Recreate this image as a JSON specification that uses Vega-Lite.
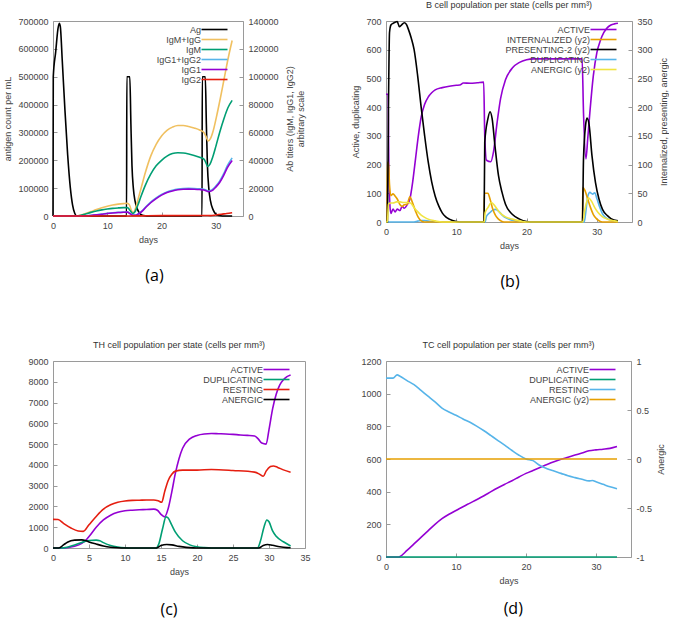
{
  "$schema": "https://vega.github.io/schema/vega-lite/v6.json",
  "background": "white",
  "padding": {"left": 3, "top": 0, "right": 0, "bottom": 0},
  "columns": 2,
  "align": "each",
  "spacing": {"row": 50, "column": 40},
  "resolve": {"scale": {"color": "independent"}, "legend": {"color": "independent"}},
  "datasets": {
    "aL": [
      {"d":0,"s":"Ag","v":0},{"d":0.05,"s":"Ag","v":500000},{"d":0.5,"s":"Ag","v":590000},{"d":0.9,"s":"Ag","v":670000},{"d":1.15,"s":"Ag","v":692000},{"d":1.35,"s":"Ag","v":680000},{"d":1.7,"s":"Ag","v":560000},{"d":2.2,"s":"Ag","v":380000},{"d":2.7,"s":"Ag","v":220000},{"d":3.2,"s":"Ag","v":100000},{"d":3.6,"s":"Ag","v":40000},{"d":4.0,"s":"Ag","v":10000},{"d":4.4,"s":"Ag","v":0},{"d":13.55,"s":"Ag","v":0},{"d":13.6,"s":"Ag","v":500000},{"d":14.15,"s":"Ag","v":500000},{"d":14.35,"s":"Ag","v":330000},{"d":14.55,"s":"Ag","v":180000},{"d":14.8,"s":"Ag","v":100000},{"d":15.1,"s":"Ag","v":55000},{"d":15.6,"s":"Ag","v":22000},{"d":16.1,"s":"Ag","v":7000},{"d":16.7,"s":"Ag","v":1500},{"d":17.3,"s":"Ag","v":0},{"d":27.45,"s":"Ag","v":0},{"d":27.5,"s":"Ag","v":500000},{"d":28.05,"s":"Ag","v":500000},{"d":28.25,"s":"Ag","v":330000},{"d":28.45,"s":"Ag","v":180000},{"d":28.7,"s":"Ag","v":100000},{"d":29.0,"s":"Ag","v":55000},{"d":29.5,"s":"Ag","v":22000},{"d":30.0,"s":"Ag","v":7000},{"d":30.6,"s":"Ag","v":1500},{"d":31.2,"s":"Ag","v":0},{"d":33,"s":"Ag","v":0}
    ],
    "aR": [
      {"d":0,"s":"IgM+IgG","v":0},{"d":4.5,"s":"IgM+IgG","v":0},{"d":5,"s":"IgM+IgG","v":500},{"d":6,"s":"IgM+IgG","v":1800},{"d":7,"s":"IgM+IgG","v":3200},{"d":8,"s":"IgM+IgG","v":4600},{"d":9,"s":"IgM+IgG","v":5900},{"d":10,"s":"IgM+IgG","v":7000},{"d":11,"s":"IgM+IgG","v":7900},{"d":12,"s":"IgM+IgG","v":8500},{"d":13,"s":"IgM+IgG","v":8900},{"d":13.7,"s":"IgM+IgG","v":9100},{"d":14.1,"s":"IgM+IgG","v":7800},{"d":14.5,"s":"IgM+IgG","v":3500},{"d":14.8,"s":"IgM+IgG","v":2500},{"d":15.2,"s":"IgM+IgG","v":5500},{"d":15.7,"s":"IgM+IgG","v":12500},{"d":16.3,"s":"IgM+IgG","v":21000},{"d":17,"s":"IgM+IgG","v":31000},{"d":18,"s":"IgM+IgG","v":43000},{"d":19,"s":"IgM+IgG","v":51500},{"d":20,"s":"IgM+IgG","v":57500},{"d":21,"s":"IgM+IgG","v":61500},{"d":22,"s":"IgM+IgG","v":63800},{"d":23,"s":"IgM+IgG","v":65000},{"d":24,"s":"IgM+IgG","v":65000},{"d":25,"s":"IgM+IgG","v":64300},{"d":26,"s":"IgM+IgG","v":63200},{"d":27,"s":"IgM+IgG","v":61800},{"d":27.8,"s":"IgM+IgG","v":60000},{"d":28.2,"s":"IgM+IgG","v":57000},{"d":28.6,"s":"IgM+IgG","v":53800},{"d":29.0,"s":"IgM+IgG","v":55500},{"d":29.5,"s":"IgM+IgG","v":61000},{"d":30.1,"s":"IgM+IgG","v":71000},{"d":30.8,"s":"IgM+IgG","v":84000},{"d":31.5,"s":"IgM+IgG","v":98000},{"d":32.2,"s":"IgM+IgG","v":112000},{"d":33,"s":"IgM+IgG","v":126000},
      {"d":0,"s":"IgM","v":0},{"d":4.5,"s":"IgM","v":0},{"d":5,"s":"IgM","v":400},{"d":6,"s":"IgM","v":1500},{"d":7,"s":"IgM","v":2600},{"d":8,"s":"IgM","v":3600},{"d":9,"s":"IgM","v":4400},{"d":10,"s":"IgM","v":5000},{"d":11,"s":"IgM","v":5500},{"d":12,"s":"IgM","v":5800},{"d":13,"s":"IgM","v":6000},{"d":13.7,"s":"IgM","v":6000},{"d":14.2,"s":"IgM","v":4000},{"d":14.7,"s":"IgM","v":1800},{"d":15.1,"s":"IgM","v":3000},{"d":15.6,"s":"IgM","v":7500},{"d":16.2,"s":"IgM","v":14000},{"d":17,"s":"IgM","v":22000},{"d":18,"s":"IgM","v":30000},{"d":19,"s":"IgM","v":36000},{"d":20,"s":"IgM","v":40000},{"d":21,"s":"IgM","v":43000},{"d":22,"s":"IgM","v":44800},{"d":23,"s":"IgM","v":45400},{"d":24,"s":"IgM","v":45200},{"d":25,"s":"IgM","v":44500},{"d":26,"s":"IgM","v":43500},{"d":27,"s":"IgM","v":42200},{"d":27.8,"s":"IgM","v":40800},{"d":28.2,"s":"IgM","v":38000},{"d":28.5,"s":"IgM","v":35500},{"d":28.9,"s":"IgM","v":37000},{"d":29.4,"s":"IgM","v":42000},{"d":30,"s":"IgM","v":50000},{"d":30.7,"s":"IgM","v":60000},{"d":31.5,"s":"IgM","v":70000},{"d":32.2,"s":"IgM","v":77500},{"d":33,"s":"IgM","v":83000},
      {"d":0,"s":"IgG1+IgG2","v":0},{"d":5,"s":"IgG1+IgG2","v":0},{"d":6,"s":"IgG1+IgG2","v":200},{"d":7,"s":"IgG1+IgG2","v":500},{"d":8,"s":"IgG1+IgG2","v":900},{"d":9,"s":"IgG1+IgG2","v":1400},{"d":10,"s":"IgG1+IgG2","v":1900},{"d":11,"s":"IgG1+IgG2","v":2300},{"d":12,"s":"IgG1+IgG2","v":2600},{"d":13,"s":"IgG1+IgG2","v":2800},{"d":13.7,"s":"IgG1+IgG2","v":2900},{"d":14.2,"s":"IgG1+IgG2","v":1800},{"d":14.7,"s":"IgG1+IgG2","v":600},{"d":15.2,"s":"IgG1+IgG2","v":600},{"d":15.8,"s":"IgG1+IgG2","v":1800},{"d":16.5,"s":"IgG1+IgG2","v":4000},{"d":17.2,"s":"IgG1+IgG2","v":7000},{"d":18,"s":"IgG1+IgG2","v":10000},{"d":19,"s":"IgG1+IgG2","v":13000},{"d":20,"s":"IgG1+IgG2","v":15500},{"d":21,"s":"IgG1+IgG2","v":17300},{"d":22,"s":"IgG1+IgG2","v":18500},{"d":23,"s":"IgG1+IgG2","v":19300},{"d":24,"s":"IgG1+IgG2","v":19700},{"d":25,"s":"IgG1+IgG2","v":19800},{"d":26,"s":"IgG1+IgG2","v":19700},{"d":27,"s":"IgG1+IgG2","v":19500},{"d":27.8,"s":"IgG1+IgG2","v":19200},{"d":28.2,"s":"IgG1+IgG2","v":18600},{"d":28.6,"s":"IgG1+IgG2","v":18000},{"d":29,"s":"IgG1+IgG2","v":18300},{"d":29.5,"s":"IgG1+IgG2","v":19500},{"d":30,"s":"IgG1+IgG2","v":21500},{"d":30.7,"s":"IgG1+IgG2","v":25000},{"d":31.4,"s":"IgG1+IgG2","v":30000},{"d":32.1,"s":"IgG1+IgG2","v":36000},{"d":33,"s":"IgG1+IgG2","v":41700},
      {"d":0,"s":"IgG1","v":0},{"d":5,"s":"IgG1","v":0},{"d":6,"s":"IgG1","v":150},{"d":7,"s":"IgG1","v":400},{"d":8,"s":"IgG1","v":800},{"d":9,"s":"IgG1","v":1300},{"d":10,"s":"IgG1","v":1800},{"d":11,"s":"IgG1","v":2200},{"d":12,"s":"IgG1","v":2500},{"d":13,"s":"IgG1","v":2700},{"d":13.7,"s":"IgG1","v":2800},{"d":14.2,"s":"IgG1","v":1700},{"d":14.7,"s":"IgG1","v":500},{"d":15.2,"s":"IgG1","v":500},{"d":15.8,"s":"IgG1","v":1600},{"d":16.5,"s":"IgG1","v":3700},{"d":17.2,"s":"IgG1","v":6600},{"d":18,"s":"IgG1","v":9500},{"d":19,"s":"IgG1","v":12500},{"d":20,"s":"IgG1","v":15000},{"d":21,"s":"IgG1","v":16800},{"d":22,"s":"IgG1","v":18000},{"d":23,"s":"IgG1","v":18800},{"d":24,"s":"IgG1","v":19200},{"d":25,"s":"IgG1","v":19300},{"d":26,"s":"IgG1","v":19200},{"d":27,"s":"IgG1","v":19000},{"d":27.8,"s":"IgG1","v":18700},{"d":28.2,"s":"IgG1","v":18100},{"d":28.6,"s":"IgG1","v":17500},{"d":29,"s":"IgG1","v":17700},{"d":29.5,"s":"IgG1","v":18800},{"d":30,"s":"IgG1","v":20700},{"d":30.7,"s":"IgG1","v":24000},{"d":31.4,"s":"IgG1","v":28800},{"d":32.1,"s":"IgG1","v":34500},{"d":33,"s":"IgG1","v":39800},
      {"d":0,"s":"IgG2","v":0},{"d":14,"s":"IgG2","v":0},{"d":16,"s":"IgG2","v":100},{"d":20,"s":"IgG2","v":300},{"d":28,"s":"IgG2","v":400},{"d":29,"s":"IgG2","v":300},{"d":30,"s":"IgG2","v":700},{"d":31,"s":"IgG2","v":1200},{"d":32,"s":"IgG2","v":1800},{"d":33,"s":"IgG2","v":2300}
    ],
    "bL": [
      {"d":0,"s":"ACTIVE","v":445},{"d":0.3,"s":"ACTIVE","v":445},{"d":0.4,"s":"ACTIVE","v":200},{"d":0.55,"s":"ACTIVE","v":60},{"d":0.7,"s":"ACTIVE","v":30},{"d":1,"s":"ACTIVE","v":45},{"d":1.3,"s":"ACTIVE","v":35},{"d":1.6,"s":"ACTIVE","v":45},{"d":2,"s":"ACTIVE","v":40},{"d":2.3,"s":"ACTIVE","v":55},{"d":2.6,"s":"ACTIVE","v":48},{"d":3,"s":"ACTIVE","v":60},{"d":3.4,"s":"ACTIVE","v":80},{"d":3.8,"s":"ACTIVE","v":140},{"d":4.2,"s":"ACTIVE","v":220},{"d":4.6,"s":"ACTIVE","v":300},{"d":5,"s":"ACTIVE","v":365},{"d":5.5,"s":"ACTIVE","v":410},{"d":6,"s":"ACTIVE","v":435},{"d":6.5,"s":"ACTIVE","v":450},{"d":7,"s":"ACTIVE","v":460},{"d":8,"s":"ACTIVE","v":468},{"d":9,"s":"ACTIVE","v":473},{"d":10,"s":"ACTIVE","v":476},{"d":10.5,"s":"ACTIVE","v":477},{"d":11,"s":"ACTIVE","v":484},{"d":12,"s":"ACTIVE","v":483},{"d":13,"s":"ACTIVE","v":485},{"d":13.9,"s":"ACTIVE","v":487},{"d":14.05,"s":"ACTIVE","v":300},{"d":14.3,"s":"ACTIVE","v":215},{"d":14.9,"s":"ACTIVE","v":210},{"d":15.3,"s":"ACTIVE","v":245},{"d":15.8,"s":"ACTIVE","v":345},{"d":16.3,"s":"ACTIVE","v":430},{"d":17,"s":"ACTIVE","v":495},{"d":18,"s":"ACTIVE","v":537},{"d":19,"s":"ACTIVE","v":556},{"d":20,"s":"ACTIVE","v":565},{"d":21,"s":"ACTIVE","v":568},{"d":24,"s":"ACTIVE","v":568},{"d":27.9,"s":"ACTIVE","v":568},{"d":28.1,"s":"ACTIVE","v":380},{"d":28.45,"s":"ACTIVE","v":220},{"d":28.7,"s":"ACTIVE","v":290},{"d":29,"s":"ACTIVE","v":380},{"d":29.5,"s":"ACTIVE","v":510},{"d":30,"s":"ACTIVE","v":590},{"d":30.5,"s":"ACTIVE","v":632},{"d":31,"s":"ACTIVE","v":660},{"d":31.5,"s":"ACTIVE","v":677},{"d":32,"s":"ACTIVE","v":686},{"d":32.5,"s":"ACTIVE","v":690},{"d":33,"s":"ACTIVE","v":692},
      {"d":0,"s":"DUPLICATING","v":0},{"d":4,"s":"DUPLICATING","v":0},{"d":4.5,"s":"DUPLICATING","v":3},{"d":5,"s":"DUPLICATING","v":5},{"d":5.5,"s":"DUPLICATING","v":5},{"d":6,"s":"DUPLICATING","v":3},{"d":7,"s":"DUPLICATING","v":0},{"d":14.1,"s":"DUPLICATING","v":0},{"d":14.3,"s":"DUPLICATING","v":20},{"d":14.8,"s":"DUPLICATING","v":33},{"d":15.2,"s":"DUPLICATING","v":42},{"d":15.6,"s":"DUPLICATING","v":44},{"d":16,"s":"DUPLICATING","v":38},{"d":16.5,"s":"DUPLICATING","v":25},{"d":17,"s":"DUPLICATING","v":15},{"d":18,"s":"DUPLICATING","v":6},{"d":19,"s":"DUPLICATING","v":1},{"d":20,"s":"DUPLICATING","v":0},{"d":28.2,"s":"DUPLICATING","v":0},{"d":28.4,"s":"DUPLICATING","v":30},{"d":28.7,"s":"DUPLICATING","v":88},{"d":29,"s":"DUPLICATING","v":103},{"d":29.4,"s":"DUPLICATING","v":97},{"d":29.7,"s":"DUPLICATING","v":102},{"d":30,"s":"DUPLICATING","v":82},{"d":30.4,"s":"DUPLICATING","v":52},{"d":30.8,"s":"DUPLICATING","v":28},{"d":31.3,"s":"DUPLICATING","v":14},{"d":32,"s":"DUPLICATING","v":6},{"d":33,"s":"DUPLICATING","v":2}
    ],
    "bR": [
      {"d":0,"s":"INTERNALIZED (y2)","v":0},{"d":0.15,"s":"INTERNALIZED (y2)","v":0},{"d":0.2,"s":"INTERNALIZED (y2)","v":104},{"d":0.35,"s":"INTERNALIZED (y2)","v":104},{"d":0.5,"s":"INTERNALIZED (y2)","v":65},{"d":0.7,"s":"INTERNALIZED (y2)","v":46},{"d":1,"s":"INTERNALIZED (y2)","v":49},{"d":1.3,"s":"INTERNALIZED (y2)","v":45},{"d":1.6,"s":"INTERNALIZED (y2)","v":40},{"d":2,"s":"INTERNALIZED (y2)","v":30},{"d":2.3,"s":"INTERNALIZED (y2)","v":27},{"d":2.6,"s":"INTERNALIZED (y2)","v":30},{"d":3,"s":"INTERNALIZED (y2)","v":31},{"d":3.4,"s":"INTERNALIZED (y2)","v":44},{"d":3.7,"s":"INTERNALIZED (y2)","v":36},{"d":4.2,"s":"INTERNALIZED (y2)","v":19},{"d":4.6,"s":"INTERNALIZED (y2)","v":8},{"d":5,"s":"INTERNALIZED (y2)","v":2},{"d":5.5,"s":"INTERNALIZED (y2)","v":0},{"d":13.95,"s":"INTERNALIZED (y2)","v":0},{"d":14.0,"s":"INTERNALIZED (y2)","v":50},{"d":14.5,"s":"INTERNALIZED (y2)","v":50},{"d":14.8,"s":"INTERNALIZED (y2)","v":40},{"d":15.2,"s":"INTERNALIZED (y2)","v":22},{"d":15.6,"s":"INTERNALIZED (y2)","v":11},{"d":16,"s":"INTERNALIZED (y2)","v":5},{"d":16.5,"s":"INTERNALIZED (y2)","v":1},{"d":17,"s":"INTERNALIZED (y2)","v":0},{"d":27.95,"s":"INTERNALIZED (y2)","v":0},{"d":28.0,"s":"INTERNALIZED (y2)","v":60},{"d":28.3,"s":"INTERNALIZED (y2)","v":55},{"d":28.7,"s":"INTERNALIZED (y2)","v":40},{"d":29.1,"s":"INTERNALIZED (y2)","v":25},{"d":29.5,"s":"INTERNALIZED (y2)","v":13},{"d":30,"s":"INTERNALIZED (y2)","v":5},{"d":30.5,"s":"INTERNALIZED (y2)","v":1},{"d":31,"s":"INTERNALIZED (y2)","v":0},{"d":33,"s":"INTERNALIZED (y2)","v":0},
      {"d":0,"s":"PRESENTING-2 (y2)","v":0},{"d":0.2,"s":"PRESENTING-2 (y2)","v":0},{"d":0.35,"s":"PRESENTING-2 (y2)","v":200},{"d":0.5,"s":"PRESENTING-2 (y2)","v":330},{"d":0.7,"s":"PRESENTING-2 (y2)","v":343},{"d":1,"s":"PRESENTING-2 (y2)","v":346},{"d":1.3,"s":"PRESENTING-2 (y2)","v":348},{"d":1.6,"s":"PRESENTING-2 (y2)","v":349},{"d":1.9,"s":"PRESENTING-2 (y2)","v":340},{"d":2.2,"s":"PRESENTING-2 (y2)","v":343},{"d":2.6,"s":"PRESENTING-2 (y2)","v":347},{"d":2.9,"s":"PRESENTING-2 (y2)","v":344},{"d":3.2,"s":"PRESENTING-2 (y2)","v":335},{"d":3.6,"s":"PRESENTING-2 (y2)","v":320},{"d":4,"s":"PRESENTING-2 (y2)","v":300},{"d":4.5,"s":"PRESENTING-2 (y2)","v":255},{"d":5,"s":"PRESENTING-2 (y2)","v":200},{"d":5.5,"s":"PRESENTING-2 (y2)","v":150},{"d":6,"s":"PRESENTING-2 (y2)","v":105},{"d":6.5,"s":"PRESENTING-2 (y2)","v":70},{"d":7,"s":"PRESENTING-2 (y2)","v":45},{"d":7.5,"s":"PRESENTING-2 (y2)","v":28},{"d":8,"s":"PRESENTING-2 (y2)","v":16},{"d":8.5,"s":"PRESENTING-2 (y2)","v":9},{"d":9,"s":"PRESENTING-2 (y2)","v":5},{"d":10,"s":"PRESENTING-2 (y2)","v":1},{"d":11,"s":"PRESENTING-2 (y2)","v":0},{"d":13.95,"s":"PRESENTING-2 (y2)","v":0},{"d":14.05,"s":"PRESENTING-2 (y2)","v":139},{"d":14.5,"s":"PRESENTING-2 (y2)","v":180},{"d":14.8,"s":"PRESENTING-2 (y2)","v":192},{"d":15.1,"s":"PRESENTING-2 (y2)","v":180},{"d":15.5,"s":"PRESENTING-2 (y2)","v":133},{"d":16,"s":"PRESENTING-2 (y2)","v":81},{"d":16.5,"s":"PRESENTING-2 (y2)","v":52},{"d":17,"s":"PRESENTING-2 (y2)","v":31},{"d":18,"s":"PRESENTING-2 (y2)","v":13},{"d":19,"s":"PRESENTING-2 (y2)","v":5},{"d":20,"s":"PRESENTING-2 (y2)","v":1},{"d":21,"s":"PRESENTING-2 (y2)","v":0},{"d":27.95,"s":"PRESENTING-2 (y2)","v":0},{"d":28.1,"s":"PRESENTING-2 (y2)","v":110},{"d":28.4,"s":"PRESENTING-2 (y2)","v":169},{"d":28.6,"s":"PRESENTING-2 (y2)","v":181},{"d":28.9,"s":"PRESENTING-2 (y2)","v":169},{"d":29.3,"s":"PRESENTING-2 (y2)","v":116},{"d":29.8,"s":"PRESENTING-2 (y2)","v":69},{"d":30.3,"s":"PRESENTING-2 (y2)","v":40},{"d":30.8,"s":"PRESENTING-2 (y2)","v":22},{"d":31.5,"s":"PRESENTING-2 (y2)","v":11},{"d":32,"s":"PRESENTING-2 (y2)","v":6},{"d":33,"s":"PRESENTING-2 (y2)","v":2},
      {"d":0,"s":"ANERGIC (y2)","v":0},{"d":0.2,"s":"ANERGIC (y2)","v":0},{"d":0.35,"s":"ANERGIC (y2)","v":31},{"d":0.6,"s":"ANERGIC (y2)","v":33},{"d":1,"s":"ANERGIC (y2)","v":33},{"d":1.5,"s":"ANERGIC (y2)","v":35},{"d":2,"s":"ANERGIC (y2)","v":35},{"d":2.5,"s":"ANERGIC (y2)","v":34},{"d":3,"s":"ANERGIC (y2)","v":34},{"d":3.5,"s":"ANERGIC (y2)","v":33},{"d":4,"s":"ANERGIC (y2)","v":25},{"d":4.5,"s":"ANERGIC (y2)","v":18},{"d":5,"s":"ANERGIC (y2)","v":12},{"d":5.5,"s":"ANERGIC (y2)","v":8},{"d":6,"s":"ANERGIC (y2)","v":5},{"d":7,"s":"ANERGIC (y2)","v":2},{"d":8,"s":"ANERGIC (y2)","v":0},{"d":14.0,"s":"ANERGIC (y2)","v":0},{"d":14.1,"s":"ANERGIC (y2)","v":16},{"d":14.5,"s":"ANERGIC (y2)","v":25},{"d":15,"s":"ANERGIC (y2)","v":34},{"d":15.5,"s":"ANERGIC (y2)","v":28},{"d":16,"s":"ANERGIC (y2)","v":19},{"d":16.5,"s":"ANERGIC (y2)","v":13},{"d":17,"s":"ANERGIC (y2)","v":9},{"d":18,"s":"ANERGIC (y2)","v":5},{"d":19,"s":"ANERGIC (y2)","v":2},{"d":20,"s":"ANERGIC (y2)","v":0},{"d":28,"s":"ANERGIC (y2)","v":0},{"d":28.3,"s":"ANERGIC (y2)","v":22},{"d":28.8,"s":"ANERGIC (y2)","v":42},{"d":29.2,"s":"ANERGIC (y2)","v":37},{"d":29.7,"s":"ANERGIC (y2)","v":25},{"d":30.2,"s":"ANERGIC (y2)","v":16},{"d":30.8,"s":"ANERGIC (y2)","v":9},{"d":31.5,"s":"ANERGIC (y2)","v":5},{"d":32.5,"s":"ANERGIC (y2)","v":2},{"d":33,"s":"ANERGIC (y2)","v":1}
    ],
    "c": [
      {"d":0,"s":"ACTIVE","v":0},{"d":1.5,"s":"ACTIVE","v":0},{"d":2,"s":"ACTIVE","v":20},{"d":3,"s":"ACTIVE","v":80},{"d":4,"s":"ACTIVE","v":220},{"d":4.5,"s":"ACTIVE","v":350},{"d":5,"s":"ACTIVE","v":550},{"d":6,"s":"ACTIVE","v":1000},{"d":7,"s":"ACTIVE","v":1350},{"d":8,"s":"ACTIVE","v":1580},{"d":9,"s":"ACTIVE","v":1720},{"d":10,"s":"ACTIVE","v":1790},{"d":11,"s":"ACTIVE","v":1820},{"d":12,"s":"ACTIVE","v":1840},{"d":13,"s":"ACTIVE","v":1850},{"d":14,"s":"ACTIVE","v":1870},{"d":14.5,"s":"ACTIVE","v":1820},{"d":15,"s":"ACTIVE","v":1620},{"d":15.5,"s":"ACTIVE","v":1500},{"d":16,"s":"ACTIVE","v":1900},{"d":16.5,"s":"ACTIVE","v":2700},{"d":17,"s":"ACTIVE","v":3600},{"d":17.5,"s":"ACTIVE","v":4300},{"d":18,"s":"ACTIVE","v":4800},{"d":19,"s":"ACTIVE","v":5250},{"d":20,"s":"ACTIVE","v":5420},{"d":21,"s":"ACTIVE","v":5490},{"d":22,"s":"ACTIVE","v":5510},{"d":23,"s":"ACTIVE","v":5500},{"d":24,"s":"ACTIVE","v":5490},{"d":25,"s":"ACTIVE","v":5470},{"d":26,"s":"ACTIVE","v":5440},{"d":27,"s":"ACTIVE","v":5420},{"d":28,"s":"ACTIVE","v":5390},{"d":28.5,"s":"ACTIVE","v":5250},{"d":29,"s":"ACTIVE","v":5050},{"d":29.6,"s":"ACTIVE","v":5000},{"d":30,"s":"ACTIVE","v":5700},{"d":30.5,"s":"ACTIVE","v":6700},{"d":31,"s":"ACTIVE","v":7400},{"d":31.5,"s":"ACTIVE","v":7850},{"d":32,"s":"ACTIVE","v":8100},{"d":32.5,"s":"ACTIVE","v":8250},{"d":33,"s":"ACTIVE","v":8330},
      {"d":0,"s":"DUPLICATING","v":0},{"d":1,"s":"DUPLICATING","v":0},{"d":2,"s":"DUPLICATING","v":40},{"d":3,"s":"DUPLICATING","v":140},{"d":4,"s":"DUPLICATING","v":270},{"d":5,"s":"DUPLICATING","v":360},{"d":6,"s":"DUPLICATING","v":380},{"d":6.5,"s":"DUPLICATING","v":350},{"d":7,"s":"DUPLICATING","v":260},{"d":8,"s":"DUPLICATING","v":120},{"d":9,"s":"DUPLICATING","v":50},{"d":10,"s":"DUPLICATING","v":15},{"d":11,"s":"DUPLICATING","v":0},{"d":14.3,"s":"DUPLICATING","v":0},{"d":14.7,"s":"DUPLICATING","v":200},{"d":15.2,"s":"DUPLICATING","v":900},{"d":15.7,"s":"DUPLICATING","v":1500},{"d":16,"s":"DUPLICATING","v":1440},{"d":16.5,"s":"DUPLICATING","v":1100},{"d":17,"s":"DUPLICATING","v":760},{"d":18,"s":"DUPLICATING","v":350},{"d":19,"s":"DUPLICATING","v":150},{"d":20,"s":"DUPLICATING","v":60},{"d":21,"s":"DUPLICATING","v":20},{"d":22,"s":"DUPLICATING","v":0},{"d":28.4,"s":"DUPLICATING","v":0},{"d":28.8,"s":"DUPLICATING","v":320},{"d":29.3,"s":"DUPLICATING","v":1000},{"d":29.7,"s":"DUPLICATING","v":1350},{"d":30,"s":"DUPLICATING","v":1260},{"d":30.5,"s":"DUPLICATING","v":820},{"d":31,"s":"DUPLICATING","v":560},{"d":32,"s":"DUPLICATING","v":300},{"d":33,"s":"DUPLICATING","v":100},
      {"d":0,"s":"RESTING","v":1380},{"d":0.7,"s":"RESTING","v":1370},{"d":1.5,"s":"RESTING","v":1170},{"d":2.5,"s":"RESTING","v":960},{"d":3.5,"s":"RESTING","v":820},{"d":4.2,"s":"RESTING","v":800},{"d":5,"s":"RESTING","v":1120},{"d":6,"s":"RESTING","v":1520},{"d":7,"s":"RESTING","v":1870},{"d":8,"s":"RESTING","v":2080},{"d":9,"s":"RESTING","v":2200},{"d":10,"s":"RESTING","v":2260},{"d":11,"s":"RESTING","v":2290},{"d":12,"s":"RESTING","v":2300},{"d":13,"s":"RESTING","v":2310},{"d":14,"s":"RESTING","v":2310},{"d":14.6,"s":"RESTING","v":2270},{"d":15.1,"s":"RESTING","v":2200},{"d":15.5,"s":"RESTING","v":2700},{"d":16,"s":"RESTING","v":3250},{"d":16.5,"s":"RESTING","v":3550},{"d":17,"s":"RESTING","v":3700},{"d":18,"s":"RESTING","v":3750},{"d":20,"s":"RESTING","v":3750},{"d":22,"s":"RESTING","v":3780},{"d":25,"s":"RESTING","v":3730},{"d":28,"s":"RESTING","v":3650},{"d":28.7,"s":"RESTING","v":3550},{"d":29.2,"s":"RESTING","v":3450},{"d":29.6,"s":"RESTING","v":3700},{"d":30.2,"s":"RESTING","v":3920},{"d":30.6,"s":"RESTING","v":3950},{"d":31.2,"s":"RESTING","v":3880},{"d":32,"s":"RESTING","v":3760},{"d":33,"s":"RESTING","v":3650},
      {"d":0,"s":"ANERGIC","v":0},{"d":0.8,"s":"ANERGIC","v":0},{"d":1.5,"s":"ANERGIC","v":160},{"d":2,"s":"ANERGIC","v":280},{"d":3,"s":"ANERGIC","v":380},{"d":4,"s":"ANERGIC","v":390},{"d":4.5,"s":"ANERGIC","v":360},{"d":5,"s":"ANERGIC","v":290},{"d":6,"s":"ANERGIC","v":190},{"d":7,"s":"ANERGIC","v":100},{"d":8,"s":"ANERGIC","v":40},{"d":9,"s":"ANERGIC","v":10},{"d":10,"s":"ANERGIC","v":0},{"d":14.4,"s":"ANERGIC","v":0},{"d":15,"s":"ANERGIC","v":120},{"d":15.8,"s":"ANERGIC","v":170},{"d":16.5,"s":"ANERGIC","v":150},{"d":17.5,"s":"ANERGIC","v":80},{"d":18.5,"s":"ANERGIC","v":30},{"d":19.5,"s":"ANERGIC","v":5},{"d":20,"s":"ANERGIC","v":0},{"d":28.6,"s":"ANERGIC","v":0},{"d":29.2,"s":"ANERGIC","v":120},{"d":29.8,"s":"ANERGIC","v":170},{"d":30.5,"s":"ANERGIC","v":130},{"d":31.5,"s":"ANERGIC","v":60},{"d":32.5,"s":"ANERGIC","v":20},{"d":33,"s":"ANERGIC","v":10}
    ],
    "dL": [
      {"d":0,"s":"ACTIVE","v":0},{"d":1.8,"s":"ACTIVE","v":0},{"d":2,"s":"ACTIVE","v":3},{"d":3,"s":"ACTIVE","v":40},{"d":4,"s":"ACTIVE","v":80},{"d":5,"s":"ACTIVE","v":120},{"d":6,"s":"ACTIVE","v":160},{"d":7,"s":"ACTIVE","v":200},{"d":8,"s":"ACTIVE","v":235},{"d":9,"s":"ACTIVE","v":262},{"d":10,"s":"ACTIVE","v":285},{"d":11,"s":"ACTIVE","v":308},{"d":12,"s":"ACTIVE","v":330},{"d":13,"s":"ACTIVE","v":352},{"d":14,"s":"ACTIVE","v":375},{"d":15,"s":"ACTIVE","v":400},{"d":16,"s":"ACTIVE","v":424},{"d":17,"s":"ACTIVE","v":446},{"d":18,"s":"ACTIVE","v":467},{"d":19,"s":"ACTIVE","v":490},{"d":20,"s":"ACTIVE","v":512},{"d":21,"s":"ACTIVE","v":530},{"d":22,"s":"ACTIVE","v":548},{"d":23,"s":"ACTIVE","v":566},{"d":24,"s":"ACTIVE","v":583},{"d":25,"s":"ACTIVE","v":598},{"d":26,"s":"ACTIVE","v":611},{"d":27,"s":"ACTIVE","v":624},{"d":28,"s":"ACTIVE","v":637},{"d":29,"s":"ACTIVE","v":650},{"d":30,"s":"ACTIVE","v":656},{"d":31,"s":"ACTIVE","v":660},{"d":32,"s":"ACTIVE","v":665},{"d":33,"s":"ACTIVE","v":676},
      {"d":0,"s":"DUPLICATING","v":0},{"d":33,"s":"DUPLICATING","v":0},
      {"d":0,"s":"RESTING","v":1095},{"d":1,"s":"RESTING","v":1095},{"d":1.6,"s":"RESTING","v":1115},{"d":2,"s":"RESTING","v":1107},{"d":3,"s":"RESTING","v":1080},{"d":4,"s":"RESTING","v":1055},{"d":5,"s":"RESTING","v":1020},{"d":6,"s":"RESTING","v":985},{"d":7,"s":"RESTING","v":950},{"d":8,"s":"RESTING","v":912},{"d":9,"s":"RESTING","v":888},{"d":10,"s":"RESTING","v":868},{"d":11,"s":"RESTING","v":845},{"d":12,"s":"RESTING","v":825},{"d":13,"s":"RESTING","v":800},{"d":14,"s":"RESTING","v":773},{"d":15,"s":"RESTING","v":743},{"d":16,"s":"RESTING","v":713},{"d":17,"s":"RESTING","v":683},{"d":18,"s":"RESTING","v":652},{"d":19,"s":"RESTING","v":623},{"d":20,"s":"RESTING","v":600},{"d":21,"s":"RESTING","v":590},{"d":22,"s":"RESTING","v":560},{"d":23,"s":"RESTING","v":541},{"d":24,"s":"RESTING","v":526},{"d":25,"s":"RESTING","v":512},{"d":26,"s":"RESTING","v":497},{"d":27,"s":"RESTING","v":486},{"d":28,"s":"RESTING","v":476},{"d":29,"s":"RESTING","v":466},{"d":29.5,"s":"RESTING","v":468},{"d":30,"s":"RESTING","v":460},{"d":31,"s":"RESTING","v":445},{"d":32,"s":"RESTING","v":430},{"d":33,"s":"RESTING","v":418}
    ],
    "dR": [
      {"d":0,"s":"ANERGIC (y2)","v":0},{"d":33,"s":"ANERGIC (y2)","v":0}
    ]
  },
  "concat": [
    {
      "vconcat": [{
        "width": 190, "height": 195,
        "layer": [
          {
            "data": {"name": "aL"},
            "mark": {"type": "line", "strokeWidth": 1.6, "interpolate": "monotone"},
            "encoding": {
              "x": {"field": "d", "type": "quantitative", "scale": {"domain": [0, 35]}, "axis": {"title": "days", "values": [0,5,10,15,20,25,30,35]}},
              "y": {"field": "v", "type": "quantitative", "scale": {"domain": [0, 700000]}, "axis": {"title": "antigen count per mL", "values": [0,100000,200000,300000,400000,500000,600000,700000], "format": "d"}},
              "color": {"field": "s", "type": "nominal", "scale": {"domain": ["Ag","IgM+IgG","IgM","IgG1+IgG2","IgG1","IgG2"], "range": ["#000000","#F0C060","#009E73","#56B4E9","#9400D3","#E51E10"]}, "legend": {"title": null, "orient": "top-right"}}
            }
          },
          {
            "data": {"name": "aR"},
            "mark": {"type": "line", "strokeWidth": 1.6, "interpolate": "monotone"},
            "encoding": {
              "x": {"field": "d", "type": "quantitative", "scale": {"domain": [0, 35]}},
              "y": {"field": "v", "type": "quantitative", "scale": {"domain": [0, 140000]}, "axis": {"orient": "right", "title": ["Ab titers (IgM, IgG1, IgG2)", "arbitrary scale"], "titleAngle": 270, "values": [0,20000,40000,60000,80000,100000,120000,140000], "format": "d"}},
              "color": {"field": "s", "type": "nominal", "legend": {"title": null, "orient": "top-right"}}
            }
          }
        ],
        "resolve": {"scale": {"y": "independent"}}
      }],
      "resolve": {"scale": {"color": "independent"}, "legend": {"color": "independent"}},
      "title": {"text": "(a)", "orient": "bottom", "offset": 23, "fontSize": 16, "font": "Open Sans", "color": "#000"}
    },
    {
      "vconcat": [{
        "width": 246, "height": 201,
        "title": {"text": "B cell population  per state (cells per mm³)", "offset": 7},
        "layer": [
          {
            "data": {"name": "bL"},
            "mark": {"type": "line", "strokeWidth": 1.6, "interpolate": "monotone"},
            "encoding": {
              "x": {"field": "d", "type": "quantitative", "scale": {"domain": [0, 35]}, "axis": {"title": "days", "values": [0,5,10,15,20,25,30,35]}},
              "y": {"field": "v", "type": "quantitative", "scale": {"domain": [0, 700]}, "axis": {"title": "Active, duplicating", "values": [0,100,200,300,400,500,600,700]}},
              "color": {"field": "s", "type": "nominal", "scale": {"domain": ["ACTIVE","INTERNALIZED (y2)","PRESENTING-2 (y2)","DUPLICATING","ANERGIC (y2)"], "range": ["#9400D3","#E69F00","#000000","#56B4E9","#F0E442"]}, "legend": {"title": null, "orient": "top-right"}}
            }
          },
          {
            "data": {"name": "bR"},
            "mark": {"type": "line", "strokeWidth": 1.6, "interpolate": "monotone"},
            "encoding": {
              "x": {"field": "d", "type": "quantitative", "scale": {"domain": [0, 35]}},
              "y": {"field": "v", "type": "quantitative", "scale": {"domain": [0, 350]}, "axis": {"orient": "right", "title": "Internalized, presenting, anergic", "titleAngle": 270, "titlePadding": 16, "values": [0,50,100,150,200,250,300,350]}},
              "color": {"field": "s", "type": "nominal", "legend": {"title": null, "orient": "top-right"}}
            }
          }
        ],
        "resolve": {"scale": {"y": "independent"}}
      }],
      "resolve": {"scale": {"color": "independent"}, "legend": {"color": "independent"}},
      "title": {"text": "(b)", "orient": "bottom", "offset": 23, "fontSize": 16, "font": "Open Sans", "color": "#000"}
    },
    {
      "vconcat": [{
        "width": 252, "height": 187,
        "title": {"text": "TH cell population per state (cells per mm³)", "offset": 7},
        "data": {"name": "c"},
        "mark": {"type": "line", "strokeWidth": 1.6, "interpolate": "monotone"},
        "encoding": {
          "x": {"field": "d", "type": "quantitative", "scale": {"domain": [0, 35]}, "axis": {"title": "days", "values": [0,5,10,15,20,25,30,35]}},
          "y": {"field": "v", "type": "quantitative", "scale": {"domain": [0, 9000]}, "axis": {"title": null, "values": [0,1000,2000,3000,4000,5000,6000,7000,8000,9000], "format": "d"}},
          "color": {"field": "s", "type": "nominal", "scale": {"domain": ["ACTIVE","DUPLICATING","RESTING","ANERGIC"], "range": ["#9400D3","#009E73","#E51E10","#000000"]}, "legend": {"title": null, "orient": "top-right"}}
        }
      }],
      "resolve": {"scale": {"color": "independent"}, "legend": {"color": "independent"}},
      "title": {"text": "(c)", "orient": "bottom", "offset": 25, "fontSize": 16, "font": "Open Sans", "color": "#000"}
    },
    {
      "vconcat": [{
        "width": 245, "height": 196,
        "title": {"text": "TC cell population per state (cells per mm³)", "offset": 7},
        "layer": [
          {
            "data": {"name": "dL"},
            "mark": {"type": "line", "strokeWidth": 1.6, "interpolate": "monotone"},
            "encoding": {
              "x": {"field": "d", "type": "quantitative", "scale": {"domain": [0, 35]}, "axis": {"title": "days", "values": [0,5,10,15,20,25,30,35]}},
              "y": {"field": "v", "type": "quantitative", "scale": {"domain": [0, 1200]}, "axis": {"title": null, "values": [0,200,400,600,800,1000,1200], "format": "d"}},
              "color": {"field": "s", "type": "nominal", "scale": {"domain": ["ACTIVE","DUPLICATING","RESTING","ANERGIC (y2)"], "range": ["#9400D3","#009E73","#56B4E9","#E69F00"]}, "legend": {"title": null, "orient": "top-right"}}
            }
          },
          {
            "data": {"name": "dR"},
            "mark": {"type": "line", "strokeWidth": 1.6},
            "encoding": {
              "x": {"field": "d", "type": "quantitative", "scale": {"domain": [0, 35]}},
              "y": {"field": "v", "type": "quantitative", "scale": {"domain": [-1, 1]}, "axis": {"orient": "right", "title": "Anergic", "titleAngle": 270, "titlePadding": 14, "values": [-1,-0.5,0,0.5,1], "labelExpr": "'' + datum.value"}},
              "color": {"field": "s", "type": "nominal", "legend": {"title": null, "orient": "top-right"}}
            }
          }
        ],
        "resolve": {"scale": {"y": "independent"}}
      }],
      "resolve": {"scale": {"color": "independent"}, "legend": {"color": "independent"}},
      "title": {"text": "(d)", "orient": "bottom", "offset": 15, "fontSize": 16, "font": "Open Sans", "color": "#000"}
    }
  ],
  "config": {
    "font": "Liberation Sans",
    "view": {"stroke": "#9a9a9a", "strokeWidth": 1},
    "axis": {"domain": false, "grid": false, "ticks": true, "tickSize": -4, "tickColor": "#9a9a9a", "labelFontSize": 9, "labelColor": "#444444", "labelPadding": 9, "labelFlush": false, "titleFontSize": 9, "titleFontWeight": "normal", "titleColor": "#444444", "titlePadding": 5},
    "title": {"fontSize": 9, "fontWeight": "normal", "color": "#333333", "anchor": "middle"},
    "legend": {"orient": "top-right", "offset": 4, "symbolType": "M103,0H129M137,0", "symbolSize": 4, "symbolStrokeWidth": 1.6, "labelFontSize": 9, "labelColor": "#444444", "labelAlign": "right", "labelOffset": 98, "rowPadding": -1, "padding": 0, "labelLimit": 0}
  }
}
